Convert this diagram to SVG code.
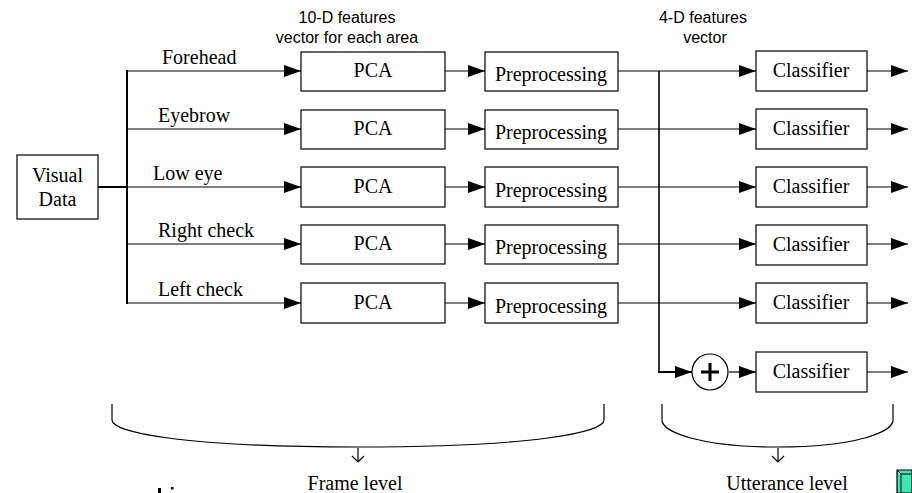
<svg xmlns="http://www.w3.org/2000/svg" width="912" height="493" viewBox="0 0 912 493">
<style>
.box{fill:#fff;stroke:#000;stroke-width:1.2}
.t{font-family:"Liberation Serif","Times New Roman",serif;font-size:20px;fill:#000}
.s{font-family:"Liberation Sans",Arial,sans-serif;font-size:16px;fill:#000}
.ln{fill:none;stroke:#000;stroke-width:1.2}
.thick{fill:none;stroke:#000;stroke-width:2}
.arr{marker-end:url(#ah)}
</style>
<defs>
<marker id="ah" markerUnits="userSpaceOnUse" markerWidth="17" markerHeight="12" refX="17" refY="6" orient="auto">
<path d="M0,0 L17,6 L0,12 z" fill="#000"/>
</marker>
</defs>
<rect width="912" height="493" fill="#fff"/>

<g id="header-labels">
<text class="s" x="347" y="23" text-anchor="middle">10-D features</text>
<text class="s" x="347" y="43" text-anchor="middle">vector for each area</text>
<text class="s" x="703" y="23" text-anchor="middle">4-D features</text>
<text class="s" x="705" y="43" text-anchor="middle">vector</text>
</g>

<g id="connectors">
<path class="thick" d="M98,187 H127 M127,70 V304"/>
<path class="ln arr" d="M127,71 H301"/>
<path class="ln arr" d="M127,129 H301"/>
<path class="ln arr" d="M127,187 H301"/>
<path class="ln arr" d="M127,244 H301"/>
<path class="ln arr" d="M127,303 H301"/>
<path class="ln arr" d="M445,71 H485"/>
<path class="ln arr" d="M445,129 H485"/>
<path class="ln arr" d="M445,187 H485"/>
<path class="ln arr" d="M445,244 H485"/>
<path class="ln arr" d="M445,303 H485"/>
<path class="ln arr" d="M618,71 H756"/>
<path class="ln arr" d="M618,129 H756"/>
<path class="ln arr" d="M618,187 H756"/>
<path class="ln arr" d="M618,244 H756"/>
<path class="ln arr" d="M618,303 H756"/>
<path fill="none" stroke="#000" stroke-width="1.6" d="M659,71 V372"/>
<path class="thick arr" d="M658,372 H692"/>
<path class="ln arr" d="M729,372 H756"/>
<path class="ln arr" d="M867,71 H908"/>
<path class="ln arr" d="M867,129 H908"/>
<path class="ln arr" d="M867,187 H908"/>
<path class="ln arr" d="M867,244 H908"/>
<path class="ln arr" d="M867,303 H908"/>
<path class="ln arr" d="M867,372 H908"/>
</g>

<g id="visual-data">
<rect class="box" x="17" y="155" width="81" height="64"/>
<text class="t" x="57.5" y="182" text-anchor="middle">Visual</text>
<text class="t" x="57.5" y="206" text-anchor="middle">Data</text>
</g>

<g id="area-labels">
<text class="t" x="162" y="64">Forehead</text>
<text class="t" x="158" y="122">Eyebrow</text>
<text class="t" x="153" y="180">Low eye</text>
<text class="t" x="158" y="237">Right check</text>
<text class="t" x="158" y="296">Left check</text>
</g>

<g id="pca-1"><rect class="box" x="301" y="52" width="144" height="39"/><text class="t" x="373" y="77" text-anchor="middle">PCA</text></g>
<g id="pca-2"><rect class="box" x="301" y="110" width="144" height="39"/><text class="t" x="373" y="135" text-anchor="middle">PCA</text></g>
<g id="pca-3"><rect class="box" x="301" y="167" width="144" height="40"/><text class="t" x="373" y="193" text-anchor="middle">PCA</text></g>
<g id="pca-4"><rect class="box" x="301" y="225" width="144" height="39"/><text class="t" x="373" y="250" text-anchor="middle">PCA</text></g>
<g id="pca-5"><rect class="box" x="301" y="283" width="144" height="40"/><text class="t" x="373" y="309" text-anchor="middle">PCA</text></g>

<g id="pre-1"><rect class="box" x="485" y="52" width="133" height="39"/><text class="t" x="551" y="81" text-anchor="middle">Preprocessing</text></g>
<g id="pre-2"><rect class="box" x="485" y="110" width="133" height="39"/><text class="t" x="551" y="139" text-anchor="middle">Preprocessing</text></g>
<g id="pre-3"><rect class="box" x="485" y="167" width="133" height="40"/><text class="t" x="551" y="197" text-anchor="middle">Preprocessing</text></g>
<g id="pre-4"><rect class="box" x="485" y="225" width="133" height="39"/><text class="t" x="551" y="254" text-anchor="middle">Preprocessing</text></g>
<g id="pre-5"><rect class="box" x="485" y="283" width="133" height="40"/><text class="t" x="551" y="313" text-anchor="middle">Preprocessing</text></g>

<g id="cls-1"><rect class="box" x="756" y="51" width="111" height="40"/><text class="t" x="811" y="77" text-anchor="middle">Classifier</text></g>
<g id="cls-2"><rect class="box" x="756" y="109" width="111" height="40"/><text class="t" x="811" y="135" text-anchor="middle">Classifier</text></g>
<g id="cls-3"><rect class="box" x="756" y="167" width="111" height="40"/><text class="t" x="811" y="193" text-anchor="middle">Classifier</text></g>
<g id="cls-4"><rect class="box" x="756" y="225" width="111" height="40"/><text class="t" x="811" y="251" text-anchor="middle">Classifier</text></g>
<g id="cls-5"><rect class="box" x="756" y="283" width="111" height="40"/><text class="t" x="811" y="309" text-anchor="middle">Classifier</text></g>
<g id="cls-6"><rect class="box" x="756" y="352" width="111" height="40"/><text class="t" x="811" y="378" text-anchor="middle">Classifier</text></g>

<g id="sum">
<circle cx="710" cy="372" r="18" fill="#fff" stroke="#000" stroke-width="1.2"/>
<path d="M701,372 H719 M710,363 V381" stroke="#000" stroke-width="3" fill="none"/>
</g>

<g id="frame-brace">
<path class="ln" d="M112,404 V420 C112,432 180,447 358,447 C536,447 604,432 604,420 V404"/>
<path class="ln" d="M358,448 V462 M352,456 L358,462 L364,456"/>
<text class="t" x="355" y="490" text-anchor="middle">Frame level</text>
</g>

<g id="utterance-brace">
<path class="ln" d="M662,404 V420 C662,432 700,447 778,447 C856,447 893,432 893,420 V404"/>
<path class="ln" d="M778,448 V462 M772,456 L778,462 L784,456"/>
<text class="t" x="787" y="490" text-anchor="middle">Utterance level</text>
</g>

<g id="artifacts">
<rect x="158" y="488" width="3" height="5" fill="#000"/>
<rect x="171" y="487" width="2.5" height="2.5" fill="#000"/>
<path d="M897,493 V470 H912 V493 Z" fill="#3ee6b0" stroke="#000" stroke-width="1.2"/>
<path d="M897,470 L901,474 H912 M901,474 V493" fill="none" stroke="#000" stroke-width="1"/>
</g>
</svg>
